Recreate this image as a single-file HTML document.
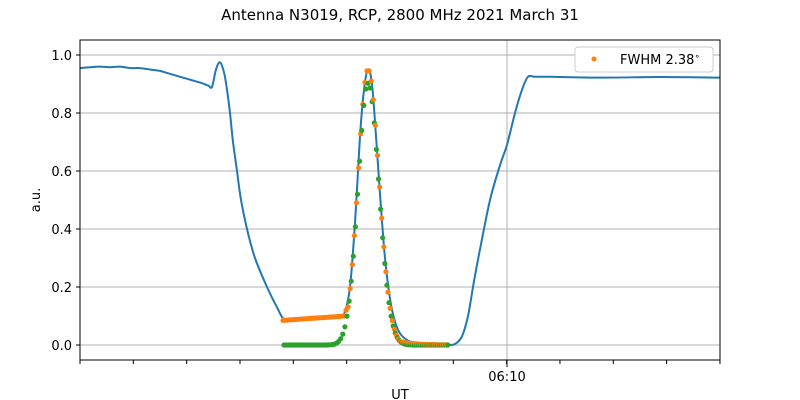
<!DOCTYPE html>
<html><head><style>body{margin:0;background:#fff}svg{display:block;font-family:"DejaVu Sans","Liberation Sans",sans-serif}</style></head><body>
<svg id="s" width="800" height="400" xmlns="http://www.w3.org/2000/svg">
<text x="400" y="20" font-size="15" text-anchor="middle">Antenna N3019, RCP, 2800 MHz 2021 March 31</text>
<g stroke="#b0b0b0" stroke-width="1">
<line x1="80" x2="720" y1="345" y2="345"/><line x1="80" x2="720" y1="287" y2="287"/><line x1="80" x2="720" y1="229" y2="229"/><line x1="80" x2="720" y1="171" y2="171"/><line x1="80" x2="720" y1="113" y2="113"/><line x1="80" x2="720" y1="55" y2="55"/>
<line x1="507" x2="507" y1="40" y2="360"/>
</g>
<g font-size="13" text-anchor="end" fill="#000">
<text x="72" y="350">0.0</text><text x="72" y="292">0.2</text><text x="72" y="234">0.4</text><text x="72" y="176">0.6</text><text x="72" y="118">0.8</text><text x="72" y="60">1.0</text>
</g>
<g stroke="#000"><line x1="76" x2="80" y1="345" y2="345"/><line x1="76" x2="80" y1="287" y2="287"/><line x1="76" x2="80" y1="229" y2="229"/><line x1="76" x2="80" y1="171" y2="171"/><line x1="76" x2="80" y1="113" y2="113"/><line x1="76" x2="80" y1="55" y2="55"/><line x1="507" x2="507" y1="360" y2="367"/></g>
<g id="minor" stroke="#000"></g>
<text x="507" y="381" font-size="13" text-anchor="middle">06:10</text>
<text x="400" y="399" font-size="13" text-anchor="middle">UT</text>
<text x="40" y="200" font-size="13" text-anchor="middle" transform="rotate(-90 40 200)">a.u.</text>
<path id="blue" fill="none" stroke="#1f77b4" stroke-width="2"/>
<g id="dots"></g>
<rect x="80" y="40" width="640" height="320" fill="none" stroke="#000" stroke-width="1"/>
<rect x="575" y="47" width="138" height="25" rx="3" fill="#fff" stroke="#ccc"/>
<circle cx="594" cy="59" r="2.5" fill="#ff7f0e"/>
<text x="620" y="64" font-size="13">FWHM 2.38<tspan font-size="9" dy="-5">∘</tspan></text>
</svg>
<script>
var Y=v=>345-290*v;
var pts=[[80,.955],[90,.958],[100,.96],[110,.958],[120,.96],[130,.955],[140,.955],[150,.95],[160,.945],[170,.935],[180,.925],[190,.915],[200,.905],[208,.895],[212,.89],[216,.95],[220,.975],[224,.94],[227,.88],[230,.8],[233,.7],[237,.6],[241,.5],[247,.4],[255,.3],[267,.2],[277,.13],[285,.087],[300,.088],[320,.093],[340,.1],[345,.115],[350,.2],[355,.42],[360,.72],[364,.88],[368,.95],[372,.9],[376,.72],[380,.52],[385,.3],[390,.16],[395,.08],[400,.04],[405,.022],[410,.012],[420,.006],[435,.003],[450,0],[456,.006],[462,.03],[468,.1],[474,.22],[480,.33],[490,.5],[500,.62],[507,.69],[515,.8],[522,.88],[528,.925],[535,.925],[550,.925],[600,.922],[660,.924],[720,.922]];
var P=pts.map(p=>[p[0],Y(p[1])]);
var d='M'+P[0][0]+' '+P[0][1].toFixed(1);
for(var i=0;i<P.length-1;i++){var p0=P[Math.max(0,i-1)],p1=P[i],p2=P[i+1],p3=P[Math.min(P.length-1,i+2)];
var c1=[p1[0]+(p2[0]-p0[0])/6,p1[1]+(p2[1]-p0[1])/6],c2=[p2[0]-(p3[0]-p1[0])/6,p2[1]-(p3[1]-p1[1])/6];
d+='C'+c1[0].toFixed(1)+' '+c1[1].toFixed(1)+' '+c2[0].toFixed(1)+' '+c2[1].toFixed(1)+' '+p2[0]+' '+p2[1].toFixed(1);}
document.getElementById('blue').setAttribute('d',d);
function g(x){var dx=x-368,s=dx<0?10:11;return .95*Math.exp(-dx*dx/(2*s*s))}
var h='';
for(var x=283;x<=448;x+=2.1){
 var o=x<345?0.085+(x-283)/62*0.015:Math.max(g(x),x<400?0:0.012*Math.exp(-(x-400)/15));
 if(x>=345&&x<350)o=Math.max(o,0.12);
 h+='<circle cx="'+x.toFixed(1)+'" cy="'+Y(o).toFixed(1)+'" r="2.6" fill="#ff7f0e"/>';
 h+='<circle cx="'+(x+1).toFixed(1)+'" cy="'+Y(x<325?0:g(x+1)*0.95).toFixed(1)+'" r="2.6" fill="#2ca02c"/>';
}
document.getElementById('dots').innerHTML=h;
var m='';for(var i=0;i<13;i++){var xx=80+i*53.33;m+='<line x1="'+xx+'" x2="'+xx+'" y1="360" y2="364"/>'}
document.getElementById('minor').innerHTML=m;
</script>
</body></html>
